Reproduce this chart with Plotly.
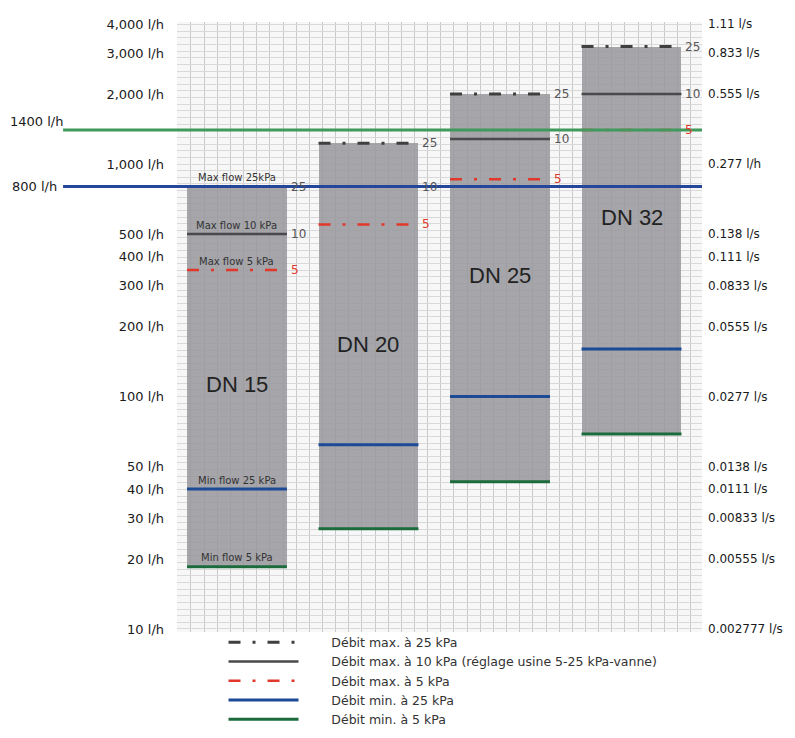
import plotly.graph_objects as go
import math

# valve sizes and flow limits (l/h)
sizes = ['DN 15', 'DN 20', 'DN 25', 'DN 32']
max_25kpa = [800, 1230, 2000, 3200]
max_10kpa = [500, 800, 1280, 2000]
max_5kpa = [350, 550, 860, 1400]
min_25kpa = [40, 62, 100, 160]
min_5kpa = [18.5, 27, 43, 69]

# reference flow lines
ref_flows = [1400, 800]
ref_labels = ['1400 l/h', '800 l/h']

# axis ticks
left_ticks = [10, 20, 30, 40, 50, 100, 200, 300, 400, 500, 1000, 2000, 3000, 4000]
left_text = ['10 l/h', '20 l/h', '30 l/h', '40 l/h', '50 l/h', '100 l/h', '200 l/h',
             '300 l/h', '400 l/h', '500 l/h', '1,000 l/h', '2,000 l/h', '3,000 l/h', '4,000 l/h']
right_text = ['0.002777 l/s', '0.00555 l/s', '0.00833 l/s', '0.0111 l/s', '0.0138 l/s',
              '0.0277 l/s', '0.0555 l/s', '0.0833 l/s', '0.111 l/s', '0.138 l/s',
              '0.277 l/h', '0.555 l/s', '0.833 l/s', '1.11 l/s']

legend_names = ['Débit max. à 25 kPa',
                'Débit max. à 10 kPa (réglage usine 5-25 kPa-vanne)',
                'Débit max. à 5 kPa',
                'Débit min. à 25 kPa',
                'Débit min. à 5 kPa']

xs = list(range(len(sizes)))
half = 0.38
yr = [0.987, 3.611]
dashdot = '12px,12px,3px,12px'
pad = '\u00a0' * 7
font_main = 'DejaVu Sans, Verdana, sans-serif'

fig = go.Figure()

fig.add_trace(go.Bar(
    x=xs, y=[t - b for t, b in zip(max_25kpa, min_5kpa)], base=min_5kpa,
    width=2 * half, marker=dict(color='rgba(150,150,156,0.85)', line=dict(width=0)),
    showlegend=False, hoverinfo='skip'
))

def seg(vals):
    lx, ly = [], []
    for i, v in enumerate(vals):
        lx += [i - half, i + half, None]
        ly += [v, v, None]
    return lx, ly

styles = [
    (max_25kpa, '#3f3f3f', 3, dashdot),
    (max_10kpa, '#4a4a4a', 2.5, 'solid'),
    (max_5kpa, '#e2372b', 2.5, dashdot),
    (min_25kpa, '#1d4a96', 3, 'solid'),
    (min_5kpa, '#1c6b3c', 3, 'solid'),
]
for (vals, col, w, dash), name in zip(styles, legend_names):
    lx, ly = seg(vals)
    fig.add_trace(go.Scatter(x=lx, y=ly, mode='lines', name=pad + name,
                             line=dict(color=col, width=w, dash=dash)))

# dummy traces for the overlay axes
fig.add_trace(go.Scatter(x=[0], y=[100], yaxis='y2', mode='markers', opacity=0,
                         showlegend=False, hoverinfo='skip'))
fig.add_trace(go.Scatter(x=[0], y=[100], yaxis='y3', mode='markers', opacity=0,
                         showlegend=False, hoverinfo='skip'))

# reference lines 1400 / 800 l/h
ref_cols = ['#3f9a5c', '#24479a']
for v, lab, c in zip(ref_flows, ref_labels, ref_cols):
    fig.add_shape(type='line', xref='paper', yref='y', x0=-0.217, x1=1.0, y0=v, y1=v,
                  line=dict(color=c, width=3), layer='above')
fig.add_annotation(x=-0.322, y=math.log10(ref_flows[0]), xref='paper', yref='y',
                   text=ref_labels[0], showarrow=False, xanchor='left', yshift=9,
                   font=dict(size=13, color='#1a1a1a'))
fig.add_annotation(x=-0.318, y=math.log10(ref_flows[1]), xref='paper', yref='y',
                   text=ref_labels[1], showarrow=False, xanchor='left',
                   font=dict(size=13, color='#1a1a1a'))

# DN labels inside bars
dn_label_y = [113, 168, 330, 590]
for i, (s, ly) in enumerate(zip(sizes, dn_label_y)):
    fig.add_annotation(x=i, y=math.log10(ly), text=s, showarrow=False,
                       font=dict(size=22, color='#222', family='Liberation Sans, Arial, sans-serif'))

# pressure numbers at the right end of the max lines
for vals, lab, col in [(max_25kpa, '25', '#555'), (max_10kpa, '10', '#555'), (max_5kpa, '5', '#e2372b')]:
    for i, v in enumerate(vals):
        fig.add_annotation(x=i + half, y=math.log10(v), text=lab, showarrow=False,
                           xanchor='left', xshift=2, font=dict(size=12, color=col))

# DN 15 captions
captions = ['Max flow 25kPa', 'Max flow 10 kPa', 'Max flow 5 kPa', 'Min flow 25 kPa', 'Min flow 5 kPa']
for cap, vals in zip(captions, [max_25kpa, max_10kpa, max_5kpa, min_25kpa, min_5kpa]):
    fig.add_annotation(x=0, y=math.log10(vals[0]), text=cap, showarrow=False,
                       yshift=9, font=dict(size=10, color='#333'))

# page body keeps an 8px margin, so the figure is 8px smaller and shifted
fig.update_layout(
    width=787, height=730,
    margin=dict(l=169, r=93, t=14, b=106, autoexpand=False),
    paper_bgcolor='white', plot_bgcolor='#f7f7f7',
    font=dict(family=font_main, color='#1a1a1a'),
    bargap=0,
    xaxis=dict(range=[-0.456, 3.536], tick0=0.05, dtick=0.1, showticklabels=False,
               showgrid=True, gridcolor='#c9c9c9', gridwidth=1, zeroline=False, ticks=''),
    yaxis=dict(type='log', range=yr, tickvals=left_ticks, ticktext=left_text,
               showgrid=False, zeroline=False, ticks='', ticklabelstandoff=12,
               tickfont=dict(size=13, color='#1a1a1a')),
    yaxis2=dict(type='log', range=yr, overlaying='y', side='right', tickvals=left_ticks,
                ticktext=right_text, showgrid=False, zeroline=False, ticks='',
                ticklabelstandoff=5, tickfont=dict(size=12, color='#1a1a1a')),
    yaxis3=dict(type='log', range=yr, overlaying='y', tick0=1, dtick=1 / 35,
                showticklabels=False, showgrid=True, gridcolor='#d9d9d9', gridwidth=1,
                zeroline=False, ticks=''),
    legend=dict(x=0.0886, y=0.007, xanchor='left', yanchor='top', bgcolor='rgba(0,0,0,0)',
                font=dict(size=12.5, color='#333'), itemwidth=70, tracegroupgap=0),
    showlegend=True,
)

fig.write_html('out.html')
